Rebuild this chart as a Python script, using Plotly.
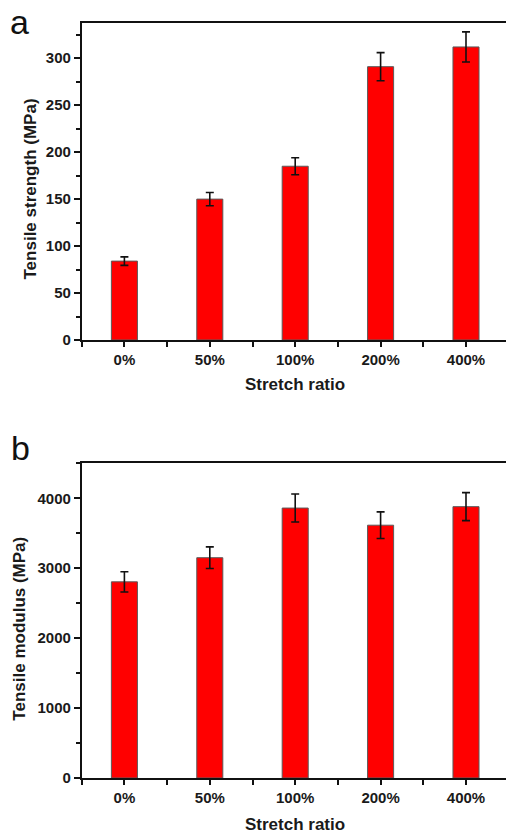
import plotly.graph_objects as go

categories = ["0%", "50%", "100%", "200%", "400%"]
strength = [84, 150, 185, 291, 312]
strength_err = [4.5, 7, 9, 15, 16]
modulus = [2805, 3150, 3860, 3615, 3880]
modulus_err = [145, 155, 200, 190, 200]

W, H = 506, 834
x_left = 81.7
top_a, bot_a = 23, 340
top_b, bot_b = 463.3, 778

xpos = list(range(len(categories)))
xmax = -0.5 + (W - x_left) / 85.4

fig = go.Figure()
bar_style = dict(marker=dict(color="#ff0000", line=dict(color="#5a5a5a", width=1)), width=0.305)
fig.add_trace(go.Bar(x=xpos, y=strength, error_y=dict(type="data", array=strength_err, color="#111", thickness=1.6, width=4),
                     xaxis="x", yaxis="y", **bar_style))
fig.add_trace(go.Bar(x=xpos, y=modulus, error_y=dict(type="data", array=modulus_err, color="#111", thickness=1.6, width=4),
                     xaxis="x2", yaxis="y2", **bar_style))

tickfont = dict(family="Liberation Sans, Arial", size=15, color="#1a1a1a")
titlefont = dict(family="Liberation Sans, Arial", size=17, color="#1a1a1a")

def xaxis(anchor):
    return dict(domain=[x_left / W, 1], range=[-0.5, xmax], anchor=anchor,
                tickmode="array", tickvals=xpos, ticktext=[f"<b>{c}</b>" for c in categories],
                ticks="outside", ticklen=5, tickwidth=1.5, tickcolor="#111",
                minor=dict(tickmode="array", tickvals=[i - 0.5 for i in range(len(categories) + 1)],
                           ticks="outside", ticklen=5, tickwidth=1.5, tickcolor="#111"),
                showline=True, linecolor="#111", linewidth=1.6, mirror=True,
                showgrid=False, zeroline=False, tickfont=tickfont, automargin=False)

def yaxis(anchor, dom, rng, dt):
    return dict(domain=dom, range=rng, anchor=anchor, dtick=dt, tick0=0,
                ticks="outside", ticklen=6, tickwidth=1.5, tickcolor="#111",
                minor=dict(dtick=dt / 2, ticks="outside", ticklen=4, tickwidth=1.5, tickcolor="#111"),
                showline=True, linecolor="#111", linewidth=1.6,
                showgrid=False, zeroline=False, tickfont=tickfont, automargin=False,
                tickprefix="<b>", ticksuffix="</b>")

fig.update_layout(
    width=W, height=H, margin=dict(l=0, r=0, t=0, b=0),
    plot_bgcolor="white", paper_bgcolor="white", showlegend=False,
    xaxis=xaxis("y"), yaxis=yaxis("x", [1 - bot_a / H, 1 - top_a / H], [0, 337.5], 50),
    xaxis2=xaxis("y2"), yaxis2=yaxis("x2", [1 - bot_b / H, 1 - top_b / H], [0, 4500], 1000),
)

def ann(text, x, y, font, angle=0):
    fig.add_annotation(text=text, x=x / W, y=1 - y / H, xref="paper", yref="paper",
                       showarrow=False, font=font, textangle=angle, xanchor="center", yanchor="middle")

ann("<b>Stretch ratio</b>", 295, 384, titlefont)
ann("<b>Stretch ratio</b>", 295, 824, titlefont)
ann("<b>Tensile strength (MPa)</b>", 30, (top_a + bot_a) / 2 + 8, titlefont, -90)
ann("<b>Tensile modulus (MPa)</b>", 20, (top_b + bot_b) / 2 + 8, titlefont, -90)
labfont = dict(family="Liberation Sans, Arial", size=34, color="#111")
ann("a", 19, 22, labfont)
ann("b", 20, 448, labfont)

fig.write_html("out.html")
